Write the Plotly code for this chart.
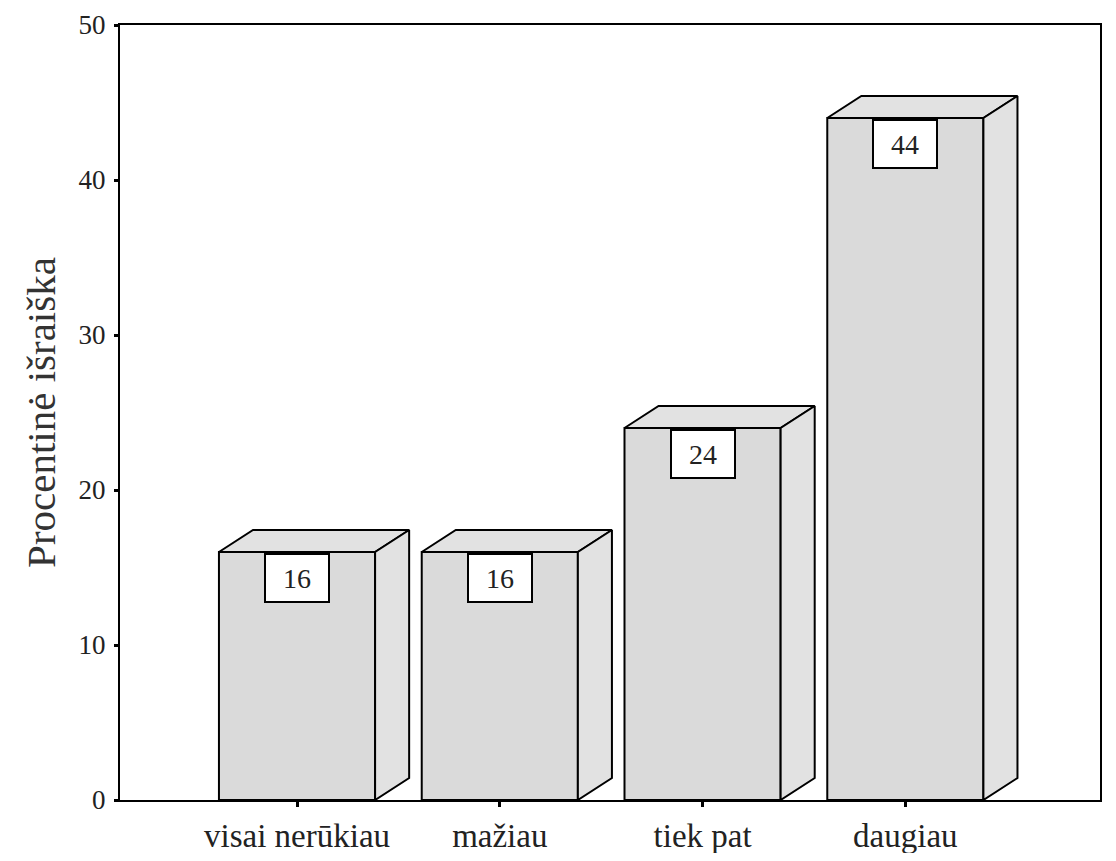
import plotly.graph_objects as go

categories = ["visai nerūkiau", "mažiau", "tiek pat", "daugiau"]
values = [16, 16, 24, 44]
y_ticks = [0, 10, 20, 30, 40, 50]

FACE = "#dadada"
SIDE = "#e2e2e2"
half_w = 0.385
dx = 0.168
dy = 1.42

fig = go.Figure()
xs = list(range(len(categories)))
fig.add_trace(go.Bar(
    x=xs, y=values, width=2 * half_w,
    marker=dict(color=FACE, line=dict(color="black", width=2)),
    showlegend=False, hoverinfo="skip",
))

for c, v in zip(xs, values):
    # top face
    fig.add_trace(go.Scatter(
        x=[c - half_w, c + half_w, c + half_w + dx, c - half_w + dx, c - half_w],
        y=[v, v, v + dy, v + dy, v],
        fill="toself", fillcolor=SIDE, mode="lines",
        line=dict(color="black", width=2), showlegend=False, hoverinfo="skip",
    ))
    # side face
    fig.add_trace(go.Scatter(
        x=[c + half_w, c + half_w + dx, c + half_w + dx, c + half_w, c + half_w],
        y=[0, dy, v + dy, v, 0],
        fill="toself", fillcolor=SIDE, mode="lines",
        line=dict(color="black", width=2), showlegend=False, hoverinfo="skip",
    ))
    fig.add_annotation(
        x=c, y=v, text=str(v), showarrow=False, yanchor="top", yshift=-1,
        bgcolor="white", bordercolor="black", borderwidth=2,
        width=60, height=44,
        font=dict(family="Liberation Serif", size=28, color="#222"),
    )

fig.update_layout(
    width=1100, height=845,
    margin=dict(l=112, r=8, t=17, b=53),
    paper_bgcolor="white", plot_bgcolor="white",
    font=dict(family="Liberation Serif", color="black"),
    showlegend=False,
)
fig.update_xaxes(
    range=[-0.873, 3.96], tickvals=xs, ticktext=categories,
    ticks="outside", ticklen=5, tickwidth=3, tickcolor="black",
    showline=True, linecolor="black", linewidth=2, mirror=True,
    showgrid=False, zeroline=False, automargin=False,
    tickfont=dict(family="Liberation Serif", size=33, color="#222"),
)
fig.update_yaxes(
    range=[0, 50], tickvals=y_ticks,
    ticks="outside", ticklen=4, tickwidth=3, tickcolor="black",
    showline=True, linecolor="black", linewidth=2, mirror=True,
    showgrid=False, zeroline=False, automargin=False,
    ticklabelstandoff=3,
    tickfont=dict(family="Liberation Serif", size=27, color="#222"),
    title=dict(text="Procentinė išraiška",
               font=dict(family="Liberation Serif", size=41, color="#333"),
               standoff=10),
)

fig.write_html("out.html")
